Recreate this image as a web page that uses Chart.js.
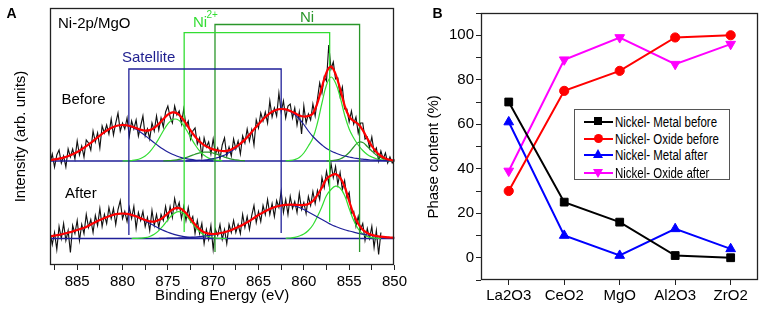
<!DOCTYPE html>
<html><head><meta charset="utf-8">
<script src="https://cdn.jsdelivr.net/npm/chart.js@4/dist/chart.umd.min.js"></script>
<style>
body{margin:0;background:#fff;font-family:"Liberation Sans",Arial,sans-serif}
#wrap{position:relative;width:765px;height:318px;overflow:hidden;background:#fff}
canvas{position:absolute;top:0}
.t{position:absolute;white-space:nowrap;line-height:1}
#legend{position:absolute;left:574px;top:109px;width:154px;height:69px;border:1px solid #555;background:#fff}
.lrow{position:absolute;left:0;width:154px;height:16px}
.lline{position:absolute;left:9px;width:29px;height:2px;top:7px}
.ltext{position:absolute;left:40px;top:0;white-space:nowrap;font-family:"Liberation Sans",Arial,sans-serif;font-size:14px;line-height:16px;color:#000;transform:scaleX(0.82);transform-origin:0 50%}
</style></head><body>
<div id="wrap">
<canvas id="ca" width="410" height="318" style="left:0"></canvas>
<canvas id="cb" width="365" height="318" style="left:400px"></canvas>
<div class="t" style="left:6.5px;top:6px;font-size:14px;font-weight:bold">A</div>
<div class="t" style="left:432.5px;top:5.5px;font-size:14px;font-weight:bold">B</div>
<div class="t" style="left:58px;top:15.2px;font-size:15px">Ni-2p/MgO</div>
<div class="t" style="left:61.5px;top:90.8px;font-size:15px">Before</div>
<div class="t" style="left:65px;top:185px;font-size:15px">After</div>
<div class="t" style="left:122px;top:49.2px;font-size:15px;color:#1f1f8f">Satellite</div>
<div class="t" style="left:193px;top:14.2px;font-size:15px;color:#33dd33">Ni</div>
<div class="t" style="left:206.5px;top:10px;font-size:10px;color:#33dd33">2+</div>
<div class="t" style="left:300px;top:8.5px;font-size:15px;color:#2a962a">Ni</div>
<div id="legend"></div>
</div>
<script>
// ---------------- Panel A data (heights above each spectrum's baseline) ----------------
const E_HALF = [888,887.5,887,886.5,886,885.5,885,884.5,884,883.5,883,882.5,882,881.5,881,880.5,880,879.5,879,878.5,878,877.5,877,876.5,876,875.5,875,874.5,874,873.5,873,872.5,872,871.5,871,870.5,870,869.5,869,868.5,868,867.5,867,866.5,866,865.5,865,864.5,864,863.5,863,862.5,862,861.5,861,860.5,860,859.5,859,858.5,858,857.5,857,856.5,856,855.5,855,854.5,854,853.5,853,852.5,852,851.5,851,850.5,850];
const E_QUARTER = [888,887.75,887.5,887.25,887,886.75,886.5,886.25,886,885.75,885.5,885.25,885,884.75,884.5,884.25,884,883.75,883.5,883.25,883,882.75,882.5,882.25,882,881.75,881.5,881.25,881,880.75,880.5,880.25,880,879.75,879.5,879.25,879,878.75,878.5,878.25,878,877.75,877.5,877.25,877,876.75,876.5,876.25,876,875.75,875.5,875.25,875,874.75,874.5,874.25,874,873.75,873.5,873.25,873,872.75,872.5,872.25,872,871.75,871.5,871.25,871,870.75,870.5,870.25,870,869.75,869.5,869.25,869,868.75,868.5,868.25,868,867.75,867.5,867.25,867,866.75,866.5,866.25,866,865.75,865.5,865.25,865,864.75,864.5,864.25,864,863.75,863.5,863.25,863,862.75,862.5,862.25,862,861.75,861.5,861.25,861,860.75,860.5,860.25,860,859.75,859.5,859.25,859,858.75,858.5,858.25,858,857.75,857.5,857.25,857,856.75,856.5,856.25,856,855.75,855.5,855.25,855,854.75,854.5,854.25,854,853.75,853.5,853.25,853,852.75,852.5,852.25,852,851.75,851.5,851.25,851,850.75,850.5,850.25,850];

const OFFSET_BEFORE = 104;
const OFFSET_AFTER = 26.5;

const RAW_BEFORE = [-2,7,-6,6,11,-2,5,-6,12,4,12,2,20,6,15,4,21,18,11,30,19,28,13,35,28,36,27,42,26,38,48,30,38,32,43,25,40,32,41,25,35,45,25,32,22,38,30,45,31,43,34,49,55,44,38,55,46,50,37,52,35,40,22,30,33,17,23,4,23,14,19,7,22,7,13,2,16,23,5,14,5,22,12,20,7,25,18,32,20,31,16,41,33,48,40,49,38,60,44,53,45,68,49,60,43,55,57,43,53,36,49,27,55,38,47,41,57,45,62,78,68,84,80,116,92,99,82,83,65,74,52,52,39,50,37,44,28,38,38,22,24,13,24,9,13,0,10,2,8,-2,4,-2,2];
const RAW_AFTER = [7,-6,6,-11,12,0,15,-2,8,-14,13,5,18,-2,14,5,24,11,19,6,23,13,30,12,24,15,31,20,30,14,29,38,20,27,17,31,20,32,10,26,18,27,12,21,8,28,13,24,11,24,18,32,19,32,21,40,29,36,20,32,18,31,17,22,5,18,5,15,-5,9,-1,13,-11,9,3,14,-1,9,-5,14,6,18,6,14,5,24,11,22,9,23,33,16,27,17,33,24,39,24,35,22,38,31,47,26,39,24,42,30,37,26,45,29,36,25,42,33,47,35,48,39,61,51,67,55,75,61,72,54,66,49,58,41,46,25,27,12,22,9,15,-2,10,0,12,-9,8,-16,6];

const FIT_BEFORE = [1.0,1.6,2.4,3.4,4.9,6.7,9.0,11.7,14.8,18.2,21.8,25.4,28.8,31.8,34.0,35.5,36.0,35.7,34.5,32.9,31.3,30.4,30.9,33.2,37.1,41.9,46.4,48.6,47.8,43.8,37.6,30.6,24.5,19.5,15.9,13.5,11.6,10.5,10.0,10.2,11.6,14.0,17.4,21.4,26.3,31.6,36.8,41.7,45.9,49.2,51.3,52.0,51.6,50.1,48.0,45.5,44.5,45.0,47.5,58.0,74.0,88.6,94.3,86.8,72.3,55.5,44.5,40.0,36.9,30.8,22.4,15.0,9.1,5.0,2.4,1.1,0.4];
const FIT_AFTER = [2.2,2.9,3.7,4.7,5.8,7.0,8.5,10.0,11.5,14.0,16.3,18.5,20.5,22.3,23.7,24.7,25.0,24.7,23.6,22.2,20.3,18.5,17.2,16.9,18.4,21.2,25.2,28.9,30.6,29.5,25.4,19.8,14.0,9.4,6.3,4.9,4.5,4.9,5.8,7.0,8.5,10.5,12.5,15.0,17.5,20.5,23.5,26.0,28.5,30.5,32.0,33.0,33.6,33.8,33.7,33.5,33.5,34.5,37.5,43.5,51.0,59.5,63.0,64.4,60.8,51.8,37.5,24.3,14.7,8.8,5.5,3.6,2.5,1.8,1.3,1.0,0.8];

// component peaks: start energy + values
const SAT1_BEFORE_START = 888;
const SAT1_BEFORE = [1.0,1.6,2.4,3.4,4.9,6.7,9.0,11.7,14.8,18.2,21.8,25.4,28.8,31.8,34.0,35.5,36.0,35.5,34.0,31.8,28.8,25.4,21.8,18.2,14.8,11.7,9.0,6.7,4.9,3.4,2.4,1.6,1.0,0.65,0.4,0.25,0.14];
const SAT2_BEFORE_START = 873;
const SAT2_BEFORE = [0.1,0.2,0.35,0.57,0.94,1.5,2.3,3.4,5.0,7.0,9.7,12.9,16.9,21.4,26.3,31.6,36.8,41.7,45.9,49.2,51.3,52.0,51.4,49.5,46.5,42.0,36.5,30.0,24.5,20.0,16.0,12.5,10.0,8.0,6.3,5.0,4.0,3.0,2.4,1.8,1.4,1.0,0.8,0.6,0.4,0.3,0.2];
const NI2_1_BEFORE_START = 880;
const NI2_1_BEFORE = [0,0.17,0.47,1.1,2.5,5.0,9.1,15.0,22.3,30.2,37.1,41.3,41.7,38.2,31.7,23.9,16.3,10.1,5.7,2.9,1.3,0.56,0.2];
const NI2_2_BEFORE_START = 862;
const NI2_2_BEFORE = [0.2,0.6,1.5,3.5,8,15,23,38,58,76,84,78,64,46,32,23,16,10.5,6.5,4,2.3,1.2,0.5,0.2,0];
const NI0_1_BEFORE_START = 875.5;
const NI0_1_BEFORE = [0.15,0.3,0.6,1.2,2.2,3.5,5.1,6.8,8.2,8.9,8.8,7.9,6.5,4.8,3.2,1.9,1.1,0.5,0.2];
const NI0_2_BEFORE_START = 857.5;
const NI0_2_BEFORE = [0.1,0.3,0.8,2.0,4.5,8.5,14,18.5,18.5,14.5,10,6,3.2,1.5,0.6,0.2];

const SAT1_AFTER_START = 888;
const SAT1_AFTER = [2.2,2.9,3.7,4.7,5.8,7,8.5,10,11.5,14,16.3,18.5,20.5,22.3,23.7,24.7,25,24.7,23.6,22.1,20.0,17.7,15.2,12.7,10.3,8.1,6.2,4.7,3.4,2.4,1.6,1.1,0.7,0.45,0.28,0.17,0.1];
const SAT2_AFTER_START = 876;
const SAT2_AFTER = [0.15,0.2,0.3,0.4,0.5,0.7,0.9,1.2,1.5,1.9,2.4,3,3.7,4.6,5.7,7,8.5,10.5,12.5,15,17.5,20.5,23.5,26,28.5,30.5,32,33,33.4,33.3,32.5,31,29,26.5,24,21.5,19,16.5,14,12,10.3,8.8,7.5,6.3,5.2,4.3,3.5,2.8,2.2,1.7,1.3,1.0,0.8];
const NI2_1_AFTER_START = 879;
const NI2_1_AFTER = [0,0.1,0.3,0.8,2.0,4.2,7.9,12.9,18.7,23.8,26.7,26.4,22.9,17.5,11.8,7.0,3.6,1.7,0.7,0.25,0.08,0];
const NI2_2_AFTER_START = 862;
const NI2_2_AFTER = [0.2,0.5,1.2,2.5,4.5,8,13.5,22,32,43,49,52.4,50.5,43,30,18,9.5,4.5,2,0.8,0.3,0.1];

// label brackets (energies and heights on the same intensity axis)
const BRACKET_LEFT_E = [879.3, 873.2, 869.8];
const BRACKET_RIGHT_E = [862.5, 857.15, 853.85];
const BRACKET_TOP = [196, 232.3, 240.5];
const BRACKET_BOTTOM_LEFT = [30, 33, 13];
const BRACKET_BOTTOM_RIGHT = [32, 43, 13];

// ---------------- Panel B data ----------------
const CATEGORIES = ['La2O3','CeO2','MgO','Al2O3','ZrO2'];
const METAL_BEFORE = [70,25,16,1,0];
const OXIDE_BEFORE = [30,75,84,99,100];
const METAL_AFTER = [61,10,1,13,4];
const OXIDE_AFTER = [39,89,99,87,96];
const SERIES_NAMES = ['Nickel- Metal before','Nickel- Oxide before','Nickel- Metal after','Nickel- Oxide after'];
const Y_TICK_LABELS = [0,20,40,60,80,100];

// ---------------- styles ----------------
const NAVY = '#1f1f99', LGREEN = '#33dd33', DGREEN = '#2a962a', RED = '#ff0000';
Chart.defaults.font.family = '"Liberation Sans", Arial, sans-serif';
Chart.defaults.color = '#000';

function onGrid(grid, vals, startE, off) {
  const i0 = grid.indexOf(startE);
  return vals.map((v, i) => ({x: grid[i0 + i], y: v + off}));
}
function curve(data, color, width, order, tension) {
  return {data, borderColor: color, borderWidth: width, pointRadius: 0, tension: tension, order: order, fill: false};
}
const boxPlugin = {
  id: 'box',
  afterDraw(chart) {
    const {ctx, chartArea: a} = chart;
    ctx.save();
    ctx.strokeStyle = '#222';
    ctx.lineWidth = 1.3;
    ctx.strokeRect(Math.round(a.left) + 0.5, Math.round(a.top) + 0.5, Math.round(a.right - a.left) - 1, Math.round(a.bottom - a.top) - 1);
    ctx.restore();
  }
};

const dsA = [];
dsA.push(curve(onGrid(E_HALF, FIT_BEFORE, 888, OFFSET_BEFORE), RED, 2.2, 0, 0.4));
dsA.push(curve(onGrid(E_HALF, FIT_AFTER, 888, OFFSET_AFTER), RED, 2.2, 0, 0.4));
const bracketColors = [NAVY, LGREEN, DGREEN];
for (let i = 0; i < 3; i++) {
  dsA.push(curve([
    {x: BRACKET_LEFT_E[i], y: BRACKET_BOTTOM_LEFT[i]},
    {x: BRACKET_LEFT_E[i], y: BRACKET_TOP[i]},
    {x: BRACKET_RIGHT_E[i], y: BRACKET_TOP[i]},
    {x: BRACKET_RIGHT_E[i], y: BRACKET_BOTTOM_RIGHT[i]}
  ], bracketColors[i], 1.3, 1, 0));
}
dsA.push(curve(onGrid(E_HALF, SAT1_BEFORE, SAT1_BEFORE_START, OFFSET_BEFORE), NAVY, 1.2, 2, 0.4));
dsA.push(curve(onGrid(E_HALF, SAT2_BEFORE, SAT2_BEFORE_START, OFFSET_BEFORE), NAVY, 1.2, 2, 0.4));
dsA.push(curve(onGrid(E_HALF, NI2_1_BEFORE, NI2_1_BEFORE_START, OFFSET_BEFORE), LGREEN, 1.2, 2, 0.4));
dsA.push(curve(onGrid(E_HALF, NI2_2_BEFORE, NI2_2_BEFORE_START, OFFSET_BEFORE), LGREEN, 1.2, 2, 0.4));
dsA.push(curve(onGrid(E_HALF, NI0_1_BEFORE, NI0_1_BEFORE_START, OFFSET_BEFORE), DGREEN, 1.2, 2, 0.4));
dsA.push(curve(onGrid(E_HALF, NI0_2_BEFORE, NI0_2_BEFORE_START, OFFSET_BEFORE), DGREEN, 1.2, 2, 0.4));
dsA.push(curve(onGrid(E_HALF, SAT1_AFTER, SAT1_AFTER_START, OFFSET_AFTER), NAVY, 1.2, 2, 0.4));
dsA.push(curve(onGrid(E_HALF, SAT2_AFTER, SAT2_AFTER_START, OFFSET_AFTER), NAVY, 1.2, 2, 0.4));
dsA.push(curve(onGrid(E_HALF, NI2_1_AFTER, NI2_1_AFTER_START, OFFSET_AFTER), LGREEN, 1.2, 2, 0.4));
dsA.push(curve(onGrid(E_HALF, NI2_2_AFTER, NI2_2_AFTER_START, OFFSET_AFTER), LGREEN, 1.2, 2, 0.4));
// baselines
dsA.push(curve([{x: E_HALF[0], y: OFFSET_BEFORE}, {x: E_HALF[E_HALF.length - 1], y: OFFSET_BEFORE}], NAVY, 1.3, 3, 0));
dsA.push(curve([{x: E_HALF[0], y: OFFSET_AFTER}, {x: E_HALF[E_HALF.length - 1], y: OFFSET_AFTER}], NAVY, 1.3, 3, 0));
// raw spectra
dsA.push(curve(onGrid(E_QUARTER, RAW_BEFORE, 888, OFFSET_BEFORE), '#111', 1.15, 4, 0));
dsA.push(curve(onGrid(E_QUARTER, RAW_AFTER, 888, OFFSET_AFTER), '#111', 1.15, 4, 0));

new Chart(document.getElementById('ca'), {
  type: 'line',
  data: {datasets: dsA},
  options: {
    responsive: false, animation: false, devicePixelRatio: 1,
    layout: {padding: {left: 8, right: 14, top: 8, bottom: 9}},
    plugins: {legend: {display: false}, tooltip: {enabled: false}},
    scales: {
      x: {
        type: 'linear', reverse: true, min: 850, max: 888,
        afterFit(s) { s.height = 44; },
        ticks: {stepSize: 2.5, includeBounds: false, autoSkip: false, maxRotation: 0, padding: 3,
          font: {size: 15}, color: '#000',
          callback: (v) => (v % 5 === 0 ? String(v) : '')},
        grid: {drawOnChartArea: false, drawTicks: true, tickLength: 5, color: '#222'},
        border: {display: false},
        title: {display: true, text: 'Binding Energy (eV)', font: {size: 15}, color: '#000', padding: {top: 0, bottom: 4}}
      },
      y: {
        min: 0, max: 257,
        afterFit(s) { s.width = 42; },
        ticks: {display: false},
        grid: {display: false},
        border: {display: false},
        title: {display: true, text: 'Intensity (arb. units)', font: {size: 15}, color: '#000', padding: {top: 4, bottom: 0}}
      }
    }
  },
  plugins: [boxPlugin]
});

// ---------------- Panel B ----------------
const B_COLORS = ['#000000', '#ff0000', '#0000ff', '#ff00ff'];
const B_STYLES = ['rect', 'circle', 'triangle', 'triangle'];
const B_ROT = [0, 0, 0, 180];
const B_RADIUS = [5.5, 4.6, 5.6, 5.6];
const B_VALUES = [METAL_BEFORE, OXIDE_BEFORE, METAL_AFTER, OXIDE_AFTER];
const dsB = B_VALUES.map((vals, i) => ({
  label: SERIES_NAMES[i], data: vals,
  borderColor: B_COLORS[i], backgroundColor: B_COLORS[i], borderWidth: 2,
  pointStyle: B_STYLES[i], pointRotation: B_ROT[i], pointRadius: B_RADIUS[i],
  pointBackgroundColor: B_COLORS[i], pointBorderColor: B_COLORS[i], pointBorderWidth: 1,
  tension: 0, fill: false
}));

new Chart(document.getElementById('cb'), {
  type: 'line',
  data: {labels: CATEGORIES, datasets: dsB},
  options: {
    responsive: false, animation: false, devicePixelRatio: 1,
    layout: {padding: {left: 21, right: 3, top: 13, bottom: 0}},
    plugins: {legend: {display: false}, tooltip: {enabled: false}},
    scales: {
      x: {
        offset: true,
        afterFit(s) { s.height = 38; },
        ticks: {font: {size: 15}, color: '#000', padding: 2, maxRotation: 0, autoSkip: false},
        grid: {drawOnChartArea: false, tickLength: 5, color: '#222'},
        border: {display: false}
      },
      y: {
        min: -10, max: 110,
        afterFit(s) { s.width = 60; },
        ticks: {stepSize: 10, includeBounds: false, font: {size: 15}, color: '#000', padding: 2,
          callback: (v) => (Y_TICK_LABELS.includes(v) ? String(v) : '')},
        grid: {drawOnChartArea: false, tickLength: 5, color: '#222'},
        border: {display: false},
        title: {display: true, text: 'Phase content (%)\u00a0\u00a0\u00a0\u00a0\u00a0', font: {size: 15}, color: '#000', padding: {top: 4, bottom: 0}}
      }
    }
  },
  plugins: [boxPlugin]
});

// HTML legend for panel B
const legend = document.getElementById('legend');
const ROW_TOP = [3.7, 20.7, 37.3, 54.7];
SERIES_NAMES.forEach((name, i) => {
  const row = document.createElement('div');
  row.className = 'lrow';
  row.style.top = (ROW_TOP[i]) + 'px';
  const ln = document.createElement('div');
  ln.className = 'lline';
  ln.style.background = B_COLORS[i];
  row.appendChild(ln);
  const mk = document.createElement('div');
  mk.style.position = 'absolute';
  if (B_STYLES[i] === 'rect') {
    Object.assign(mk.style, {left: '19px', top: '3.5px', width: '8px', height: '8px', background: B_COLORS[i]});
  } else if (B_STYLES[i] === 'circle') {
    Object.assign(mk.style, {left: '18.5px', top: '3px', width: '9px', height: '9px', borderRadius: '50%', background: B_COLORS[i]});
  } else if (B_ROT[i] === 0) {
    Object.assign(mk.style, {left: '18px', top: '2px', width: 0, height: 0, borderLeft: '5px solid transparent', borderRight: '5px solid transparent', borderBottom: '9px solid ' + B_COLORS[i]});
  } else {
    Object.assign(mk.style, {left: '18px', top: '4px', width: 0, height: 0, borderLeft: '5px solid transparent', borderRight: '5px solid transparent', borderTop: '9px solid ' + B_COLORS[i]});
  }
  row.appendChild(mk);
  const tx = document.createElement('div');
  tx.className = 'ltext';
  tx.textContent = name;
  row.appendChild(tx);
  legend.appendChild(row);
});
</script>
</body></html>
